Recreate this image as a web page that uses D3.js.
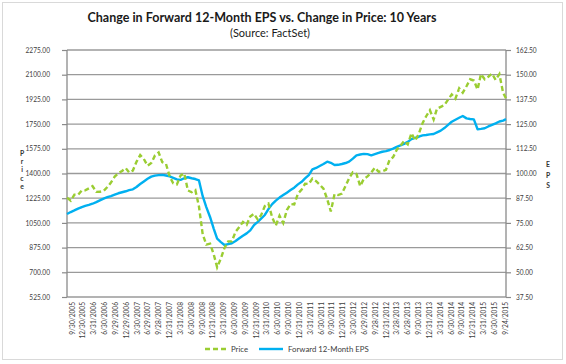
<!DOCTYPE html>
<html><head><meta charset="utf-8">
<script src="https://cdn.jsdelivr.net/npm/d3@7"></script>
<style>body{margin:0;background:#fff} svg{display:block}</style>
</head><body>
<svg id="c" width="566" height="364"></svg>
<script>
// ---- data ----
const titleText = "Change in Forward 12-Month EPS vs. Change in Price: 10 Years";
const subtitleText = "(Source: FactSet)";
const seriesNames = ["Price", "Forward 12-Month EPS"];
const startDate = "2005-09-30";
const endDate = "2015-09-24";
// monthly observations, Sep 2005 .. Sep 2015
const priceValues = [
  1228.8, 1207.0, 1249.5, 1248.3,
  1280.1, 1280.7, 1294.8, 1310.6, 1270.1, 1270.2, 1276.7, 1303.8, 1335.9, 1377.9, 1400.6, 1418.3,
  1438.2, 1406.8, 1420.9, 1482.4, 1530.6, 1503.3, 1455.3, 1474.0, 1526.8, 1549.4, 1481.1, 1468.4,
  1378.6, 1330.6, 1322.7, 1385.6, 1400.4, 1280.0, 1267.4, 1282.8, 1166.4, 968.8, 896.2, 903.3,
  825.9, 735.1, 797.9, 872.8, 919.1, 919.3, 987.5, 1020.6, 1057.1, 1036.2, 1095.6, 1115.1,
  1073.9, 1104.5, 1169.4, 1186.7, 1089.4, 1030.7, 1101.6, 1049.3, 1141.2, 1183.3, 1180.6, 1257.6,
  1286.1, 1327.2, 1325.8, 1363.6, 1345.2, 1320.6, 1292.3, 1218.9, 1131.4, 1253.3, 1247.0, 1257.6,
  1312.4, 1365.7, 1408.5, 1397.9, 1310.3, 1362.2, 1379.3, 1406.6, 1440.7, 1412.2, 1416.2, 1426.2,
  1498.1, 1514.7, 1569.2, 1597.6, 1630.7, 1606.3, 1685.7, 1633.0, 1681.6, 1756.5, 1805.8, 1848.4,
  1782.6, 1859.5, 1872.3, 1883.9, 1923.6, 1960.2, 1930.7, 2003.4, 1972.3, 2018.1, 2067.6, 2058.9,
  1995.0, 2104.5, 2067.9, 2085.5, 2107.4, 2063.1, 2103.8, 1972.2, 1932.2
];
const epsValues = [
  79.5, 80.5, 81.3, 82.2,
  83.0, 83.6, 84.1, 84.7, 85.5, 86.4, 87.3, 88.0, 88.6, 89.3, 90.0, 90.5,
  91.0, 91.6, 92.0, 93.2, 94.7, 96.0, 97.3, 98.4, 98.9, 99.2, 99.3, 99.0,
  98.5, 97.8, 97.0, 96.8, 97.6, 98.1, 97.6, 97.2, 96.5, 88.5, 83.0, 78.0,
  72.0, 67.0, 65.3, 63.8, 64.3, 64.7, 65.8, 67.2, 68.5, 69.7, 71.2, 73.9,
  75.5, 77.2, 79.0, 82.0, 84.5, 86.3, 87.8, 89.1, 90.3, 91.6, 92.8, 94.5,
  95.8, 97.5, 99.2, 102.1, 102.8, 103.8, 104.8, 106.0, 105.4, 104.3, 104.4, 104.8,
  105.3, 106.0, 107.5, 109.2, 109.6, 109.9, 109.8, 109.2, 109.8, 110.4, 111.0, 111.3,
  111.9, 112.6, 113.5, 114.2, 115.0, 116.0, 117.4, 118.0, 118.6, 119.3, 119.5, 119.8,
  120.0, 120.8, 121.7, 123.0, 124.6, 126.2, 127.2, 128.2, 129.1, 127.9, 127.6, 127.4,
  122.4, 122.6, 122.9, 123.8, 124.6, 125.4, 126.3, 126.8, 127.5
];
const priceTicks = [525, 700, 875, 1050, 1225, 1400, 1575, 1750, 1925, 2100, 2275];
const epsTicks = [37.5, 50, 62.5, 75, 87.5, 100, 112.5, 125, 137.5, 150, 162.5];
const xLabels = ["9/30/2005","12/30/2005","3/31/2006","6/30/2006","9/29/2006","12/29/2006",
  "3/30/2007","6/29/2007","9/28/2007","12/31/2007","3/31/2008","6/30/2008","9/30/2008",
  "12/31/2008","3/31/2009","6/30/2009","9/30/2009","12/31/2009","3/31/2010","6/30/2010",
  "9/30/2010","12/31/2010","3/31/2011","6/30/2011","9/30/2011","12/30/2011","3/30/2012",
  "6/29/2012","9/28/2012","12/31/2012","3/28/2013","6/28/2013","9/30/2013","12/31/2013",
  "3/31/2014","6/30/2014","9/30/2014","12/31/2014","3/31/2015","6/30/2015","9/24/2015"];

// ---- build dates (month ends, last = endDate) ----
const parse = d3.timeParse("%Y-%m-%d");
const d0 = parse(startDate), d1 = parse(endDate);
const dates = priceValues.map((_, i) => i === priceValues.length - 1 ? d1 : new Date(2005, 9 + i, 0));
const rows = dates.map((d, i) => ({date: d, price: priceValues[i], eps: epsValues[i]}));

// ---- layout ----
const FONT = "Lato, 'Open Sans', sans-serif";
const L = 67, R = 506, T = 50, B = 297;
const svg = d3.select("#c");
svg.append("rect").attr("x", 2.5).attr("y", 2.5).attr("width", 560).attr("height", 357)
  .attr("fill", "#fff").attr("stroke", "#d9d9d9").attr("stroke-width", 1);

const x = d3.scaleTime().domain([d0, d1]).range([L, R]);
const yP = d3.scaleLinear().domain([525, 2275]).range([B, T]);
const yE = d3.scaleLinear().domain([37.5, 162.5]).range([B, T]);
const xl = d3.scalePoint().domain(xLabels).range([72, 505]);

// gridlines
svg.append("g").selectAll("line").data(priceTicks).join("line")
  .attr("x1", L).attr("x2", R).attr("y1", d => yP(d)).attr("y2", d => yP(d))
  .attr("stroke", "#9a9a9a").attr("stroke-width", 1.3);
// frame verticals
svg.append("line").attr("x1", L).attr("x2", L).attr("y1", T).attr("y2", B).attr("stroke", "#8a8a8a").attr("stroke-width", 1.3);
svg.append("line").attr("x1", R).attr("x2", R).attr("y1", T).attr("y2", B).attr("stroke", "#8a8a8a").attr("stroke-width", 1.3);

// axes
const gl = svg.append("g").attr("transform", `translate(${L},0)`)
  .call(d3.axisLeft(yP).tickValues(priceTicks).tickFormat(d3.format(".2f")).tickSize(5).tickPadding(12));
const gr = svg.append("g").attr("transform", `translate(${R},0)`)
  .call(d3.axisRight(yE).tickValues(epsTicks).tickFormat(d3.format(".2f")).tickSize(5).tickPadding(5));
const gb = svg.append("g").attr("transform", `translate(0,${B})`)
  .call(d3.axisBottom(xl).tickSize(0).tickPadding(0));
[gl, gr, gb].forEach(g => {
  g.select(".domain").remove();
  g.selectAll(".tick line").attr("stroke", "#8a8a8a").attr("stroke-width", 1.2);
  g.selectAll("text").attr("fill", "#404040").style("font-family", FONT).style("font-size", "6.6px");
});
gb.selectAll(".tick text")
  .attr("transform", "rotate(-90)").attr("text-anchor", "end")
  .attr("x", -5).attr("y", 0).attr("dy", "0.32em");

// lines
const linePrice = d3.line().x(d => x(d.date)).y(d => yP(d.price)).curve(d3.curveLinear);
const lineEps = d3.line().x(d => x(d.date)).y(d => yE(d.eps)).curve(d3.curveLinear);
svg.append("path").datum(rows).attr("d", lineEps).attr("fill", "none")
  .attr("stroke", "#00b0f0").attr("stroke-width", 2.4).attr("stroke-linejoin", "round");
svg.append("path").datum(rows).attr("d", linePrice).attr("fill", "none")
  .attr("stroke", "#9acd32").attr("stroke-width", 2.4).attr("stroke-dasharray", "5,3");

// axis titles (stacked letters)
const pLetters = "Price".split("");
svg.append("g").selectAll("text").data(pLetters).join("text")
  .attr("x", 22).attr("y", (d, i) => 156 + i * 8.2).attr("text-anchor", "middle")
  .style("font-family", FONT).style("font-size", "6.8px").style("font-weight", "bold").attr("fill", "#333")
  .text(d => d);
const eLetters = "EPS".split("");
svg.append("g").selectAll("text").data(eLetters).join("text")
  .attr("x", 548).attr("y", (d, i) => 167 + i * 10.5).attr("text-anchor", "middle")
  .style("font-family", FONT).style("font-size", "6.8px").style("font-weight", "bold").attr("fill", "#333")
  .text(d => d);

// titles, fitted to measured width
function fitText(sel, target) {
  const w = sel.node().getComputedTextLength();
  const fs = parseFloat(sel.style("font-size"));
  sel.style("font-size", (fs * target / w).toFixed(2) + "px");
}
const t1 = svg.append("text").attr("x", 262).attr("y", 22).attr("text-anchor", "middle")
  .style("font-family", FONT).style("font-size", "13px").style("font-weight", "bold").attr("fill", "#1a1a1a")
  .text(titleText);
fitText(t1, 349);
const t2 = svg.append("text").attr("x", 270).attr("y", 37).attr("text-anchor", "middle")
  .style("font-family", FONT).style("font-size", "12px").attr("fill", "#1a1a1a")
  .text(subtitleText);
fitText(t2, 80);

// legend
const lg = svg.append("g");
const ly = 349;
lg.append("line").attr("x1", 205).attr("x2", 226).attr("y1", ly).attr("y2", ly)
  .attr("stroke", "#9acd32").attr("stroke-width", 2.4).attr("stroke-dasharray", "5,3");
lg.append("text").attr("x", 231).attr("y", ly).attr("dy", "0.35em")
  .style("font-family", FONT).style("font-size", "7.8px").attr("fill", "#404040").text(seriesNames[0]);
lg.append("line").attr("x1", 259).attr("x2", 283).attr("y1", ly).attr("y2", ly)
  .attr("stroke", "#00b0f0").attr("stroke-width", 2.4);
lg.append("text").attr("x", 288).attr("y", ly).attr("dy", "0.35em")
  .style("font-family", FONT).style("font-size", "7.8px").attr("fill", "#404040").text(seriesNames[1]);
</script>
</body></html>
